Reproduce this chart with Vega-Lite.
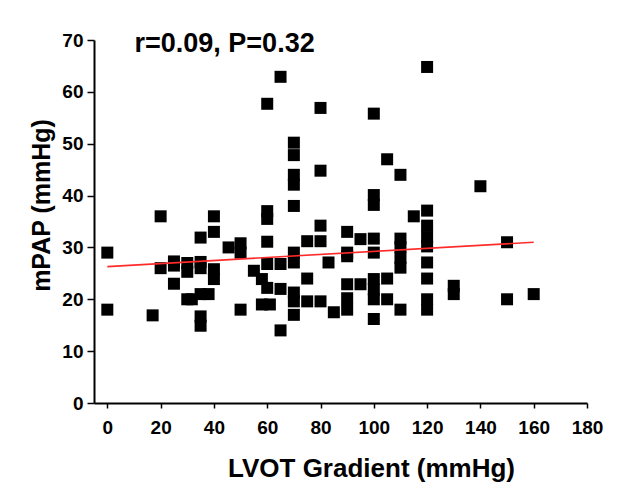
{
  "$schema": "https://vega.github.io/schema/vega-lite/v6.json",
  "width": 493,
  "height": 363,
  "autosize": {"type": "none"},
  "padding": {"left": 94, "top": 40, "right": 41, "bottom": 83},
  "background": "white",
  "config": {"view": {"stroke": null}, "font": "Liberation Sans"},
  "layer": [
    {
      "data": {"values": [
        {"gradient": 0, "mpap": 29}, {"gradient": 0, "mpap": 18}, {"gradient": 17, "mpap": 16.9}, {"gradient": 20, "mpap": 36}, {"gradient": 20, "mpap": 26},
        {"gradient": 25, "mpap": 27.3}, {"gradient": 25, "mpap": 26.5}, {"gradient": 25, "mpap": 23}, {"gradient": 30, "mpap": 27}, {"gradient": 30, "mpap": 25.3},
        {"gradient": 30, "mpap": 20}, {"gradient": 31.7, "mpap": 20}, {"gradient": 35, "mpap": 31.9}, {"gradient": 35, "mpap": 27.2}, {"gradient": 35, "mpap": 26},
        {"gradient": 35, "mpap": 21}, {"gradient": 35, "mpap": 16.7}, {"gradient": 35, "mpap": 14.9}, {"gradient": 38, "mpap": 21}, {"gradient": 40, "mpap": 36},
        {"gradient": 40, "mpap": 33}, {"gradient": 40, "mpap": 25.8}, {"gradient": 40, "mpap": 23.9}, {"gradient": 45.5, "mpap": 30}, {"gradient": 50, "mpap": 30.8},
        {"gradient": 50, "mpap": 29}, {"gradient": 50, "mpap": 18}, {"gradient": 55, "mpap": 25.5}, {"gradient": 58, "mpap": 23.9}, {"gradient": 58, "mpap": 19},
        {"gradient": 60, "mpap": 57.7}, {"gradient": 60, "mpap": 37}, {"gradient": 60, "mpap": 35.5}, {"gradient": 60, "mpap": 31.1}, {"gradient": 60, "mpap": 26.8},
        {"gradient": 60, "mpap": 22.2}, {"gradient": 61, "mpap": 19}, {"gradient": 65, "mpap": 62.9}, {"gradient": 65, "mpap": 26.8}, {"gradient": 65, "mpap": 22},
        {"gradient": 65, "mpap": 14}, {"gradient": 70, "mpap": 50.2}, {"gradient": 70, "mpap": 47.8}, {"gradient": 70, "mpap": 44}, {"gradient": 70, "mpap": 42.1},
        {"gradient": 70, "mpap": 38}, {"gradient": 70, "mpap": 29}, {"gradient": 70, "mpap": 27.1}, {"gradient": 70, "mpap": 21.3}, {"gradient": 70, "mpap": 19.6},
        {"gradient": 70, "mpap": 17}, {"gradient": 75, "mpap": 31.2}, {"gradient": 75, "mpap": 24}, {"gradient": 75, "mpap": 19.6}, {"gradient": 80, "mpap": 56.9},
        {"gradient": 80, "mpap": 44.8}, {"gradient": 80, "mpap": 34.2}, {"gradient": 80, "mpap": 31.2}, {"gradient": 80, "mpap": 19.6}, {"gradient": 83, "mpap": 27.1},
        {"gradient": 85, "mpap": 17.5}, {"gradient": 90, "mpap": 33}, {"gradient": 90, "mpap": 29}, {"gradient": 90, "mpap": 28.3}, {"gradient": 90, "mpap": 22.9},
        {"gradient": 90, "mpap": 20.2}, {"gradient": 90, "mpap": 18}, {"gradient": 95, "mpap": 31.6}, {"gradient": 95, "mpap": 22.9}, {"gradient": 100, "mpap": 55.8},
        {"gradient": 100, "mpap": 40.1}, {"gradient": 100, "mpap": 38.2}, {"gradient": 100, "mpap": 31.7}, {"gradient": 100, "mpap": 29}, {"gradient": 100, "mpap": 23.9},
        {"gradient": 100, "mpap": 21.9}, {"gradient": 100, "mpap": 20}, {"gradient": 100, "mpap": 16.2}, {"gradient": 105, "mpap": 47}, {"gradient": 105, "mpap": 24},
        {"gradient": 105, "mpap": 20}, {"gradient": 110, "mpap": 44}, {"gradient": 110, "mpap": 31.7}, {"gradient": 110, "mpap": 30.1}, {"gradient": 110, "mpap": 28},
        {"gradient": 110, "mpap": 26.1}, {"gradient": 110, "mpap": 18}, {"gradient": 115, "mpap": 36}, {"gradient": 120, "mpap": 64.8}, {"gradient": 120, "mpap": 37.1},
        {"gradient": 120, "mpap": 34.2}, {"gradient": 120, "mpap": 32}, {"gradient": 120, "mpap": 30.2}, {"gradient": 120, "mpap": 27.1}, {"gradient": 120, "mpap": 24},
        {"gradient": 120, "mpap": 20}, {"gradient": 120, "mpap": 18}, {"gradient": 130, "mpap": 22.6}, {"gradient": 130, "mpap": 21}, {"gradient": 140, "mpap": 41.8},
        {"gradient": 150, "mpap": 31}, {"gradient": 150, "mpap": 20}, {"gradient": 160, "mpap": 21}
      ]},
      "mark": {"type": "point", "shape": "square", "filled": true, "size": 144, "color": "black", "opacity": 1},
      "encoding": {
        "x": {
          "field": "gradient", "type": "quantitative",
          "scale": {"domain": [-5, 180], "nice": false, "zero": false},
          "axis": {
            "values": [0, 10, 20, 30, 40, 50, 60, 70, 80, 90, 100, 110, 120, 130, 140, 150, 160, 170, 180],
            "labelExpr": "datum.value % 20 === 0 ? datum.label : ''",
            "grid": false, "domainColor": "black", "domainWidth": 2,
            "tickColor": "black", "tickWidth": 1.5, "tickSize": 5,
            "labelFont": "Liberation Sans", "labelFontSize": 19, "labelFontWeight": "bold", "labelColor": "black",
            "labelPadding": 10, "labelFlush": false, "labelOverlap": false, "labelBound": false,
            "title": "LVOT Gradient (mmHg)", "titleFont": "Liberation Sans", "titleFontSize": 26, "titleFontWeight": "bold", "titleColor": "black",
            "titleX": 277, "titleY": 73, "titleAlign": "center", "titleBaseline": "alphabetic"
          }
        },
        "y": {
          "field": "mpap", "type": "quantitative",
          "scale": {"domain": [0, 70], "nice": false},
          "axis": {
            "values": [0, 5, 10, 15, 20, 25, 30, 35, 40, 45, 50, 55, 60, 65, 70],
            "labelExpr": "datum.value % 10 === 0 ? datum.label : ''",
            "grid": false, "domainColor": "black", "domainWidth": 2,
            "tickColor": "black", "tickWidth": 1.5, "tickSize": 7,
            "labelFont": "Liberation Sans", "labelFontSize": 19, "labelFontWeight": "bold", "labelColor": "black",
            "labelPadding": 4, "labelFlush": false, "labelOverlap": false, "labelBound": false,
            "title": "mPAP (mmHg)", "titleFont": "Liberation Sans", "titleFontSize": 25, "titleFontWeight": "bold", "titleColor": "black",
            "titleAngle": 270, "titleX": -45, "titleY": 165, "titleAlign": "center", "titleBaseline": "alphabetic"
          }
        }
      }
    },
    {
      "data": {"values": [{"gradient": 0, "mpap": 26.3}, {"gradient": 160, "mpap": 31}]},
      "mark": {"type": "line", "color": "#ff2a2a", "strokeWidth": 1.6},
      "encoding": {
        "x": {"field": "gradient", "type": "quantitative"},
        "y": {"field": "mpap", "type": "quantitative"}
      }
    },
    {
      "data": {"values": [{"label": "r=0.09, P=0.32"}]},
      "mark": {"type": "text", "align": "left", "baseline": "alphabetic", "font": "Liberation Sans", "fontSize": 27, "fontWeight": "bold", "color": "black"},
      "encoding": {
        "x": {"datum": 10.2, "type": "quantitative"},
        "y": {"datum": 67.6, "type": "quantitative"},
        "text": {"field": "label"}
      }
    }
  ]
}
